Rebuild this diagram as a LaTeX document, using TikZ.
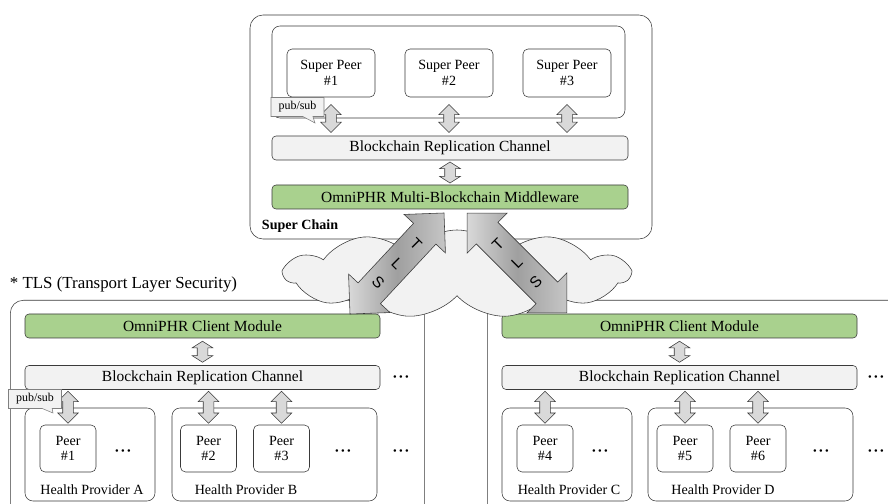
\documentclass[tikz,border=0pt]{standalone}
\usepackage{fontspec}
\setmainfont{Liberation Serif}
\newfontfamily\diagfont{Liberation Serif}
\newfontfamily\tlsfont{Liberation Sans}
\usepackage{tikz}
\usetikzlibrary{shapes.arrows, shapes.symbols, shapes.callouts, positioning}
\definecolor{modgreen}{HTML}{A9D18E}
\definecolor{chanfill}{HTML}{F2F2F2}
\definecolor{arrowfill}{HTML}{D9D9D9}
\definecolor{cloudfill}{HTML}{F2F2F2}
\definecolor{linegray}{HTML}{3A3A3A}
\newcommand{\pxu}{0.025cm}
\newcommand{\moredots}{\textbullet\hspace{1.6pt}\textbullet\hspace{1.6pt}\textbullet}

\begin{document}
\begin{tikzpicture}[x=\pxu, y=-\pxu, font=\diagfont\fontsize{10}{11}\selectfont]
    \tikzstyle{outerbox} = [rectangle, draw=linegray, rounded corners=13*\pxu]
    \tikzstyle{groupbox} = [rectangle, draw=linegray, rounded corners=8*\pxu]
    \tikzstyle{peer} = [rectangle, draw=linegray, rounded corners=5*\pxu, minimum width=56*\pxu, minimum height=47*\pxu, align=center, inner sep=1pt]
    \tikzstyle{superpeer} = [peer, minimum width=88*\pxu, minimum height=48*\pxu]
    \tikzstyle{channel} = [rectangle, draw=linegray, rounded corners=4*\pxu, fill=chanfill, minimum height=24*\pxu, inner sep=0pt, font=\diagfont\fontsize{11}{12}\selectfont]
    \tikzstyle{module} = [channel, fill=modgreen]
    \tikzstyle{dblarrow} = [double arrow, draw=linegray, fill=arrowfill, inner xsep=0pt, inner ysep=5*\pxu, double arrow head extend=5*\pxu, sloped]
    \tikzstyle{shortarrow} = [dblarrow, double arrow tip angle=115]
    \tikzstyle{tlsarrow} = [double arrow, draw=linegray, inner xsep=0pt, inner ysep=15*\pxu, double arrow head extend=13*\pxu, sloped, left color=gray!30, right color=gray!45, middle color=gray!75]
    \tikzstyle{tlstext} = [align=center, inner sep=0pt, font=\tlsfont\fontsize{11}{19}\selectfont]
    \tikzstyle{callbox} = [rectangle callout, draw=gray, fill=gray!10, minimum width=53*\pxu, minimum height=19*\pxu, inner sep=1pt, font=\diagfont\fontsize{8.5}{9}\selectfont]
    \tikzstyle{dots} = [font=\diagfont\fontsize{7.5}{7.5}\selectfont, inner sep=0pt]

    \useasboundingbox (0,0) rectangle (888,504);
    \clip (0,0) rectangle (888,504);

    % super chain
    \node (superchain) [outerbox, minimum width=402*\pxu, minimum height=224*\pxu] at (451,127) {};
    \node (scname) [anchor=west, font=\diagfont\bfseries] at (257,226) {Super Chain};
    \node (spgroup) [groupbox, minimum width=353*\pxu, minimum height=92*\pxu] at (448.5,72) {};
    \node (sp1) [superpeer] at (331,73) {Super Peer\\\#1};
    \node (sp2) [superpeer] at (449,73) {Super Peer\\\#2};
    \node (sp3) [superpeer] at (567,73) {Super Peer\\\#3};
    \node (brcS) [channel, minimum width=356*\pxu] at (450,148) {Blockchain Replication Channel};
    \node (mw) [module, minimum width=356*\pxu] at (450,197) {OmniPHR Multi-Blockchain Middleware};

    \path (sp1.south) -- (sp1.south |- brcS.north) node[dblarrow, pos=0.55, minimum height=28*\pxu] {};
    \path (sp2.south) -- (sp2.south |- brcS.north) node[dblarrow, pos=0.55, minimum height=28*\pxu] {};
    \path (sp3.south) -- (sp3.south |- brcS.north) node[dblarrow, pos=0.55, minimum height=28*\pxu] {};
    \path (brcS.south) -- (mw.north) node[shortarrow, midway, minimum height=21*\pxu] {};
    \node (psS) [callbox, callout absolute pointer={(315,123)}] at (297.5,107) {pub/sub};

    % health domain left
    \node (domainL) [outerbox, anchor=north west, minimum width=414*\pxu, minimum height=240*\pxu] at (10,300) {};
    \node (cmL) [module, minimum width=355*\pxu] at (202.5,326) {OmniPHR Client Module};
    \node (brcL) [channel, minimum width=355*\pxu] at (202.5,377.5) {Blockchain Replication Channel};
    \node (hpA) [groupbox, minimum width=130*\pxu, minimum height=93*\pxu] at (90,454.5) {};
    \node (hpB) [groupbox, minimum width=205*\pxu, minimum height=93*\pxu] at (274.5,454.5) {};
    \node (p1) [peer] at (68,448.5) {Peer\\\#1};
    \node (p2) [peer] at (208.5,448.5) {Peer\\\#2};
    \node (p3) [peer] at (281.5,448.5) {Peer\\\#3};
    \node (hpAname) at (92,490) {Health Provider A};
    \node (hpBname) at (246,490) {Health Provider B};
    \node (dotsA) [dots] at (123,452) {\moredots};
    \node (dotsB) [dots] at (343,452) {\moredots};
    \node (dotsL1) [dots] at (401,378) {\moredots};
    \node (dotsL2) [dots] at (401,452) {\moredots};

    \path (cmL.south) -- (brcL.north) node[shortarrow, midway, minimum height=21*\pxu] {};
    \path (p1.north |- brcL.south) -- (p1.north) node[dblarrow, midway, minimum height=32*\pxu] {};
    \path (p2.north |- brcL.south) -- (p2.north) node[dblarrow, midway, minimum height=32*\pxu] {};
    \path (p3.north |- brcL.south) -- (p3.north) node[dblarrow, midway, minimum height=32*\pxu] {};
    \node (psL) [callbox, callout absolute pointer={(53,413)}] at (35,399) {pub/sub};

    % health domain right
    \node (domainR) [outerbox, anchor=north west, minimum width=430*\pxu, minimum height=240*\pxu] at (487,300) {};
    \node (cmR) [module, minimum width=355*\pxu] at (679.5,326) {OmniPHR Client Module};
    \node (brcR) [channel, minimum width=355*\pxu] at (679.5,377.5) {Blockchain Replication Channel};
    \node (hpC) [groupbox, minimum width=130*\pxu, minimum height=93*\pxu] at (567,454.5) {};
    \node (hpD) [groupbox, minimum width=205*\pxu, minimum height=93*\pxu] at (750.5,454.5) {};
    \node (p4) [peer] at (545,448.5) {Peer\\\#4};
    \node (p5) [peer] at (685,448.5) {Peer\\\#5};
    \node (p6) [peer] at (758,448.5) {Peer\\\#6};
    \node (hpCname) at (569,490) {Health Provider C};
    \node (hpDname) at (723,490) {Health Provider D};
    \node (dotsC) [dots] at (600,452) {\moredots};
    \node (dotsD) [dots] at (821,452) {\moredots};
    \node (dotsR1) [dots] at (876,378) {\moredots};
    \node (dotsR2) [dots] at (876,452) {\moredots};

    \path (cmR.south) -- (brcR.north) node[shortarrow, midway, minimum height=21*\pxu] {};
    \path (p4.north |- brcR.south) -- (p4.north) node[dblarrow, midway, minimum height=32*\pxu] {};
    \path (p5.north |- brcR.south) -- (p5.north) node[dblarrow, midway, minimum height=32*\pxu] {};
    \path (p6.north |- brcR.south) -- (p6.north) node[dblarrow, midway, minimum height=32*\pxu] {};

    % network and TLS links
    \node (tlsnote) [anchor=west, font=\diagfont\fontsize{12}{13}\selectfont] at (5,284) {* TLS (Transport Layer Security)};
    \node (net) [cloud, draw=linegray, fill=cloudfill, cloud puffs=11, cloud puff arc=100, aspect=3.9, minimum width=345*\pxu, minimum height=88*\pxu, inner sep=0pt] at (457,274) {};
    \coordinate (tlsLtop) at (444,213);
    \coordinate (tlsLbot) at (350,314);
    \coordinate (tlsRtop) at (467,213);
    \coordinate (tlsRbot) at (567,313);
    \path (tlsLtop) -- (tlsLbot) node[tlsarrow, midway, minimum height=138*\pxu] (tlsL) {};
    \path (tlsRtop) -- (tlsRbot) node[tlsarrow, midway, minimum height=141*\pxu] (tlsR) {};
    \node (tlsLtext) [tlstext, rotate=-45] at (tlsL.center) {T\\L\\S};
    \node (tlsRtext) [tlstext, rotate=45] at (tlsR.center) {T\\L\\S};
\end{tikzpicture}
\end{document}
